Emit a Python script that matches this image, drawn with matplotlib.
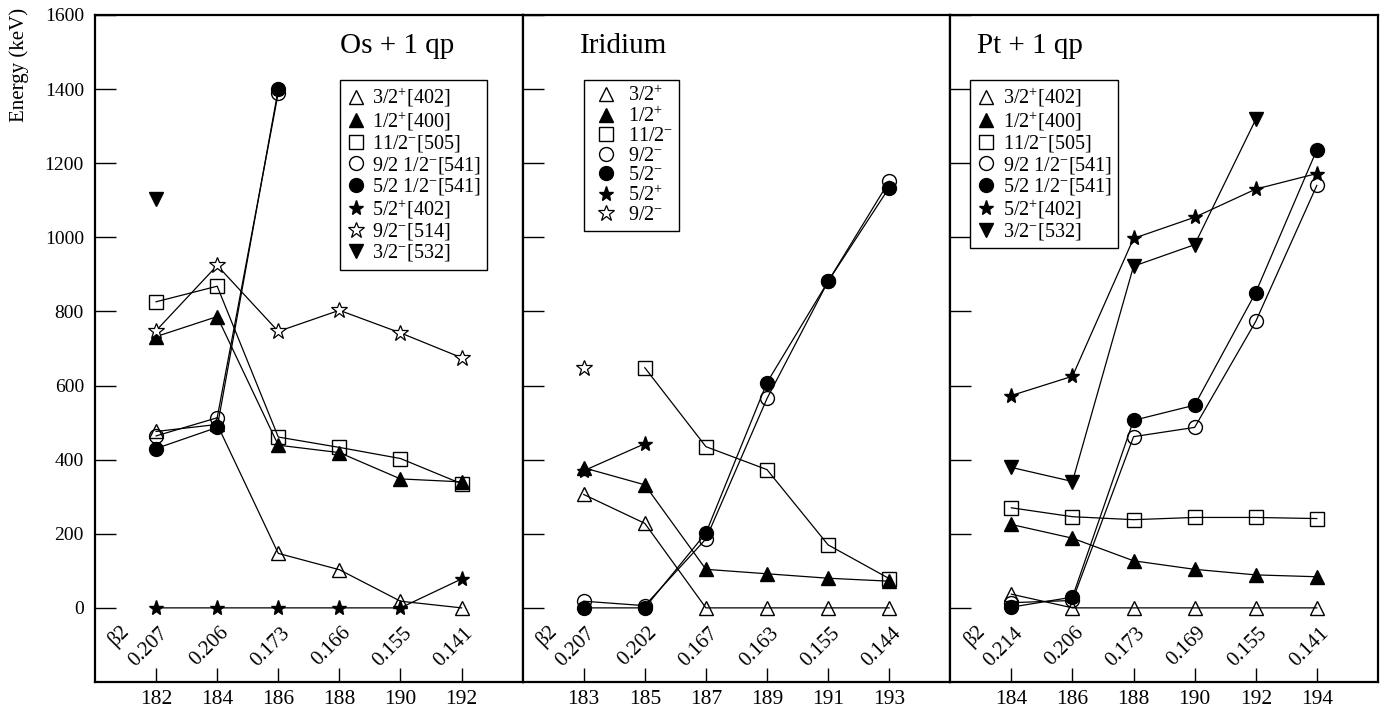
import numpy as np
import matplotlib
matplotlib.use('Agg')
import matplotlib.pyplot as plt
from matplotlib.lines import Line2D

plt.rcParams['font.family'] = ['Liberation Serif', 'DejaVu Serif']
plt.rcParams['mathtext.fontset'] = 'custom'
plt.rcParams['mathtext.rm'] = 'Liberation Serif'
plt.rcParams['mathtext.it'] = 'Liberation Serif:italic'

nan = np.nan

# Os + 1 qp (mass numbers 182..192)
os_mass = [182, 184, 186, 188, 190, 192]
os_beta2 = ['0.207', '0.206', '0.173', '0.166', '0.155', '0.141']
os_32p_402 = [476, 495, 147, 103, 18, 0]
os_12p_400 = [732, 786, 439, 419, 348, 340]
os_112m_505 = [826, 868, 461, 433, 403, 335]
os_92_541 = [464, 513, 1390, nan, nan, nan]
os_52_541 = [430, 487, 1400, nan, nan, nan]
os_52p_402 = [0, 0, 0, 0, 0, 78]
os_92m_514 = [748, 924, 746, 803, 742, 675]
os_32m_532 = [1104, nan, nan, nan, nan, nan]

# Iridium (mass numbers 183..193)
ir_mass = [183, 185, 187, 189, 191, 193]
ir_beta2 = ['0.207', '0.202', '0.167', '0.163', '0.155', '0.144']
ir_32p = [306, 228, 0, 0, 0, 0]
ir_12p = [378, 332, 104, 92, 80, 72]
ir_112m = [nan, 648, 435, 373, 170, 79]
ir_92m = [18, 6, 186, 565, 881, 1151]
ir_52m = [0, 0, 202, 608, 881, 1134]
ir_52p = [370, 443, nan, nan, nan, nan]
ir_92m_star = [646, nan, nan, nan, nan, nan]

# Pt + 1 qp (mass numbers 184..194)
pt_mass = [184, 186, 188, 190, 192, 194]
pt_beta2 = ['0.214', '0.206', '0.173', '0.169', '0.155', '0.141']
pt_32p_402 = [37, 0, 0, 0, 0, 0]
pt_12p_400 = [225, 188, 127, 104, 89, 84]
pt_112m_505 = [270, 246, 238, 244, 244, 241]
pt_92_541 = [14, 20, 462, 487, 773, 1140]
pt_52_541 = [2, 29, 506, 547, 851, 1236]
pt_52p_402 = [573, 625, 997, 1054, 1130, 1172]
pt_32m_532 = [379, 341, 922, 980, 1318, nan]

OPEN = dict(mfc='none', mec='black')
FULL = dict(mfc='black', mec='black')
STYLES = {
    'tri_o': dict(marker='^', ms=10, **OPEN),
    'tri_f': dict(marker='^', ms=10, **FULL),
    'sq_o': dict(marker='s', ms=10, **OPEN),
    'ci_o': dict(marker='o', ms=10, **OPEN),
    'ci_f': dict(marker='o', ms=10, **FULL),
    'st_f': dict(marker='*', ms=11, **FULL),
    'st_o': dict(marker='*', ms=12, mfc='white', mec='black', mew=0.9),
    'dtri_f': dict(marker='v', ms=10, **FULL),
}

panels = [
    dict(mass=os_mass, beta=os_beta2, xlim=(180, 194), title='Os + 1 qp', tx=189.9,
         leg=(0.572, 0.902), hl=1.0, htp=0.3,
         series=[('tri_o', os_32p_402, '3/2$^{+}$[402]'),
                 ('tri_f', os_12p_400, '1/2$^{+}$[400]'),
                 ('sq_o', os_112m_505, '11/2$^{-}$[505]'),
                 ('ci_o', os_92_541, '9/2 1/2$^{-}$[541]'),
                 ('ci_f', os_52_541, '5/2 1/2$^{-}$[541]'),
                 ('st_f', os_52p_402, '5/2$^{+}$[402]'),
                 ('st_o', os_92m_514, '9/2$^{-}$[514]'),
                 ('dtri_f', os_32m_532, '3/2$^{-}$[532]')]),
    dict(mass=ir_mass, beta=ir_beta2, xlim=(181, 195), title='Iridium', tx=184.3,
         leg=(0.143, 0.902), hl=1.6, htp=0.3,
         series=[('tri_o', ir_32p, '3/2$^{+}$'),
                 ('tri_f', ir_12p, '1/2$^{+}$'),
                 ('sq_o', ir_112m, '11/2$^{-}$'),
                 ('ci_o', ir_92m, '9/2$^{-}$'),
                 ('ci_f', ir_52m, '5/2$^{-}$'),
                 ('st_f', ir_52p, '5/2$^{+}$'),
                 ('st_o', ir_92m_star, '9/2$^{-}$')]),
    dict(mass=pt_mass, beta=pt_beta2, xlim=(182, 196), title='Pt + 1 qp', tx=184.6,
         leg=(0.047, 0.902), hl=1.0, htp=0.3,
         series=[('tri_o', pt_32p_402, '3/2$^{+}$[402]'),
                 ('tri_f', pt_12p_400, '1/2$^{+}$[400]'),
                 ('sq_o', pt_112m_505, '11/2$^{-}$[505]'),
                 ('ci_o', pt_92_541, '9/2 1/2$^{-}$[541]'),
                 ('ci_f', pt_52_541, '5/2 1/2$^{-}$[541]'),
                 ('st_f', pt_52p_402, '5/2$^{+}$[402]'),
                 ('dtri_f', pt_32m_532, '3/2$^{-}$[532]')]),
]

fig, axes = plt.subplots(1, 3, figsize=(13.91, 7.11), dpi=100, sharey=True)
fig.subplots_adjust(left=0.0683, right=0.9906, bottom=0.0408, top=0.979, wspace=0)

for ax, p in zip(axes, panels):
    handles = []
    for key, vals, label in p['series']:
        st = STYLES[key]
        ax.plot(p['mass'], vals, color='black', lw=0.9, **st)
        handles.append(Line2D([], [], ls='none', color='black', **st))
    ax.set_xlim(*p['xlim'])
    ax.set_ylim(-200, 1600)
    ax.set_xticks(p['mass'])
    ax.set_yticks(range(0, 1601, 200))
    ax.tick_params(axis='x', direction='in', length=10, width=1, labelsize=15.5, pad=6)
    ax.tick_params(axis='y', direction='in', length=15, width=1, labelsize=14, pad=8)
    for s in ax.spines.values():
        s.set_linewidth(1.6)
    # beta2 labels
    for m, b in zip(p['mass'], p['beta']):
        ax.text(m - 0.25, -105, b, rotation=45, ha='center', va='center', fontsize=15)
    ax.text(p['mass'][0] - 1.2, -75, 'β2', rotation=45, ha='center', va='center', fontsize=15)
    ax.text(p['tx'], 1515, p['title'], ha='center', va='center', fontsize=21)
    leg = ax.legend(handles, [s[2] for s in p['series']], loc='upper left',
                    bbox_to_anchor=p['leg'], borderaxespad=0, fontsize=14.5,
                    handlelength=p['hl'], handletextpad=p['htp'], labelspacing=0.02,
                    borderpad=0.3, fancybox=False, framealpha=1)
    leg.get_frame().set_edgecolor('black')
    leg.get_frame().set_linewidth(1.0)

axes[0].set_ylabel('Energy (keV)', fontsize=15)
axes[0].yaxis.set_label_coords(-0.155, 0.925)

fig.savefig('out.png', dpi=100)
